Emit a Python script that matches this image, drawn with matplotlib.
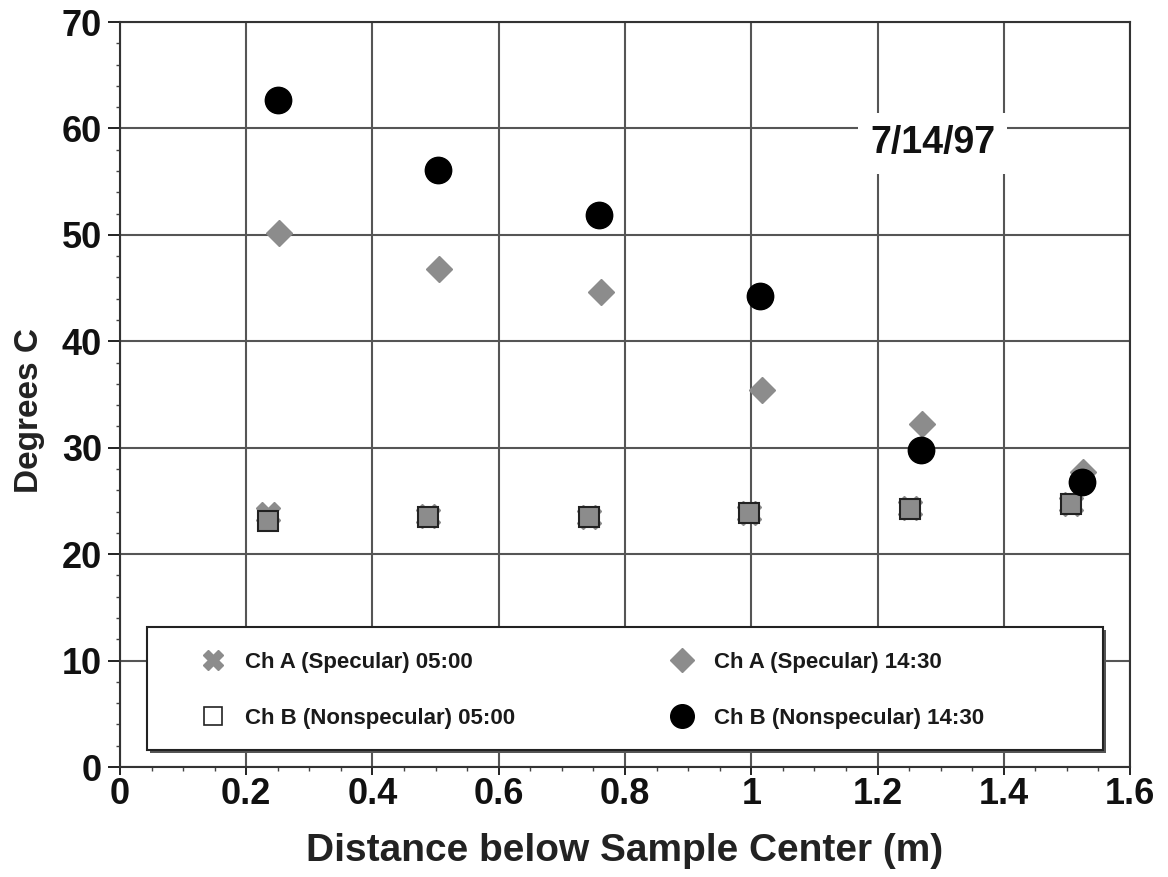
"""Temperature profile below sample center, 7/14/97."""

import matplotlib

matplotlib.use("Agg")
import matplotlib.pyplot as plt
from matplotlib.lines import Line2D
from matplotlib.patches import Rectangle
from matplotlib.ticker import MultipleLocator

plt.rcParams["font.family"] = ["Liberation Sans", "DejaVu Sans"]
plt.rcParams["font.weight"] = "bold"

# ── Data ────────────────────────────────────────────────────
x_05 = [0.235, 0.488, 0.743, 0.997, 1.252, 1.506]
ch_a_05 = [23.8, 23.6, 23.5, 23.9, 24.3, 24.7]
ch_b_05 = [23.1, 23.5, 23.45, 23.9, 24.25, 24.7]

x_a_1430 = [0.252, 0.505, 0.762, 1.017, 1.271, 1.526]
ch_a_1430 = [50.2, 46.8, 44.6, 35.4, 32.2, 27.7]

x_b_1430 = [0.250, 0.504, 0.759, 1.014, 1.269, 1.524]
ch_b_1430 = [62.7, 56.1, 51.9, 44.3, 29.8, 26.8]

# legend order: column 1 = 05:00, column 2 = 14:30
labels = [
    "Ch A (Specular) 05:00",
    "Ch B (Nonspecular) 05:00",
    "Ch A (Specular) 14:30",
    "Ch B (Nonspecular) 14:30",
]

GRAY = "#8c8c8c"

fig = plt.figure(figsize=(11.68, 8.77), dpi=100)
ax = fig.add_axes([0.1027, 0.1254, 0.8648, 0.8495])

ax.plot(x_05, ch_a_05, ls="none", marker="X", ms=17, color=GRAY, mec=GRAY, zorder=4)
ax.plot(x_05, ch_b_05, ls="none", marker="s", ms=15, mfc=GRAY, mec="#222222", mew=1.5, zorder=5)
ax.plot(x_a_1430, ch_a_1430, ls="none", marker="D", ms=13, color=GRAY, zorder=4)
ax.plot(x_b_1430, ch_b_1430, ls="none", marker="o", ms=19, color="black", zorder=6)

ax.set_xlim(0, 1.6)
ax.set_ylim(0, 70)
ax.xaxis.set_minor_locator(MultipleLocator(0.05))
ax.yaxis.set_major_locator(MultipleLocator(10))
ax.yaxis.set_minor_locator(MultipleLocator(2))
ax.set_xticks([0, 0.2, 0.4, 0.6, 0.8, 1.0, 1.2, 1.4, 1.6])
ax.set_xticklabels(["0", "0.2", "0.4", "0.6", "0.8", "1", "1.2", "1.4", "1.6"])

ax.grid(True, which="major", color="#555555", lw=1.5)
ax.set_axisbelow(True)
for sp in ax.spines.values():
    sp.set_color("#333333")
    sp.set_linewidth(1.5)

ax.tick_params(which="major", direction="out", width=1.3, labelsize=26, colors="#111111")
ax.tick_params(axis="y", which="major", length=9, pad=4)
ax.tick_params(axis="x", which="major", length=6, pad=1)
ax.tick_params(which="minor", direction="out", length=3, width=1.0, colors="#444444")

ax.set_xlabel("Distance below Sample Center (m)", fontsize=28, fontweight="bold",
              color="#222222", labelpad=15)
ax.set_ylabel("Degrees C", fontsize=24, fontweight="bold", color="#222222")
ax.yaxis.set_label_coords(-0.074, 0.478)

ax.text(1.287, 58.6, "7/14/97", fontsize=27, fontweight="bold", ha="center", va="center",
        color="#111111", bbox=dict(facecolor="white", edgecolor="none", pad=9), zorder=7)

# ── Legend box with drop shadow ─────────────────────────────
box = (0.0267, 0.0228, 0.9466, 0.1652)
shadow = Rectangle((box[0] + 0.003, box[1] - 0.004), box[2], box[3], transform=ax.transAxes,
                   facecolor="#555555", edgecolor="none", zorder=7)
frame = Rectangle(box[:2], box[2], box[3], transform=ax.transAxes,
                  facecolor="white", edgecolor="#222222", lw=1.5, zorder=8)
ax.add_patch(shadow)
ax.add_patch(frame)

handles = [
    Line2D([], [], ls="none", marker="X", ms=15, color=GRAY),
    Line2D([], [], ls="none", marker="s", ms=13, mfc="white", mec="#222222", mew=1.2),
    Line2D([], [], ls="none", marker="D", ms=12, color=GRAY),
    Line2D([], [], ls="none", marker="o", ms=17, color="black"),
]
leg = ax.legend(handles, labels, ncol=2, frameon=False, loc="center left",
                bbox_to_anchor=(0.0812, 0.103), borderaxespad=0, borderpad=0,
                fontsize=16, handlelength=1.0, handletextpad=0.95,
                columnspacing=7.0, labelspacing=1.56)
leg.set_zorder(9)
for t in leg.get_texts():
    t.set_color("#1a1a1a")

fig.savefig("out.png", dpi=100)
